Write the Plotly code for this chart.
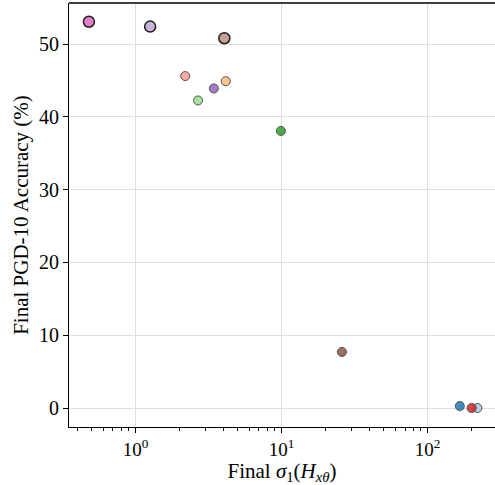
import plotly.graph_objects as go

# data
sigma1 = [0.48, 1.26, 4.06, 2.19, 4.15, 3.44, 2.68, 9.9, 25.9, 166, 219, 200]
pgd10_acc = [53.07, 52.4, 50.8, 45.6, 44.9, 43.9, 42.25, 38.07, 7.7, 0.27, 0.0, 0.0]
colors = ["#e377c2", "#c5b0d5", "#c49c94", "#ff9896", "#ffbb78", "#9467bd",
          "#98df8a", "#2ca02c", "#8c564b", "#1f77b4", "#aec7e8", "#d62728"]
large = [True, True, True, False, False, False, False, False, False, False, False, False]

x_tickvals = [1, 10, 100]
x_ticktext = ["10<sup>0</sup>", "10<sup>1</sup>", "10<sup>2</sup>"]
y_tickvals = [0, 10, 20, 30, 40, 50]

fig = go.Figure()
for xi, yi, c, big in zip(sigma1, pgd10_acc, colors, large):
    fig.add_trace(go.Scatter(
        x=[xi], y=[yi], mode="markers", showlegend=False,
        marker=dict(size=11 if big else 9, color=c,
                    opacity=0.95 if big else 0.85,
                    line=dict(color="#111111" if big else "#333333",
                              width=1.5 if big else 1)),
    ))

font = dict(family="Liberation Serif", color="black")
fig.update_layout(
    width=495, height=485,
    margin=dict(l=69, r=0, t=3, b=58),
    plot_bgcolor="white", paper_bgcolor="white",
    font=dict(size=19, **font),
    xaxis=dict(
        type="log", range=[-0.455, 2.461],
        tickvals=x_tickvals, ticktext=x_ticktext,
        ticks="outside", ticklen=5, tickcolor="black",
        showline=True, linecolor="black", linewidth=1.2,
        showgrid=True, gridcolor="#dedede", gridwidth=1,
        zeroline=False,
        minor=dict(ticks="outside", ticklen=2.5, tickcolor="black",
                   dtick="D1", showgrid=False),
        title=dict(text="Final <i>σ</i><sub>1</sub>(<i>H</i><sub><i>xθ</i></sub>)",
                   font=dict(size=21, **font), standoff=5),
        tickfont=dict(size=19, **font),
    ),
    yaxis=dict(
        range=[-2.61, 55.64],
        tickvals=y_tickvals,
        ticks="outside", ticklen=5, tickcolor="black",
        showline=True, linecolor="black", linewidth=1.2,
        showgrid=True, gridcolor="#dedede", gridwidth=1,
        zeroline=False,
        title=dict(text="Final PGD-10 Accuracy (%)", font=dict(size=21, **font), standoff=4),
        tickfont=dict(size=20, **font),
    ),
)
fig.add_shape(type="line", xref="paper", yref="paper", x0=0, x1=1, y0=1, y1=1,
              line=dict(color="black", width=1.5))
fig.write_html("out.html")
